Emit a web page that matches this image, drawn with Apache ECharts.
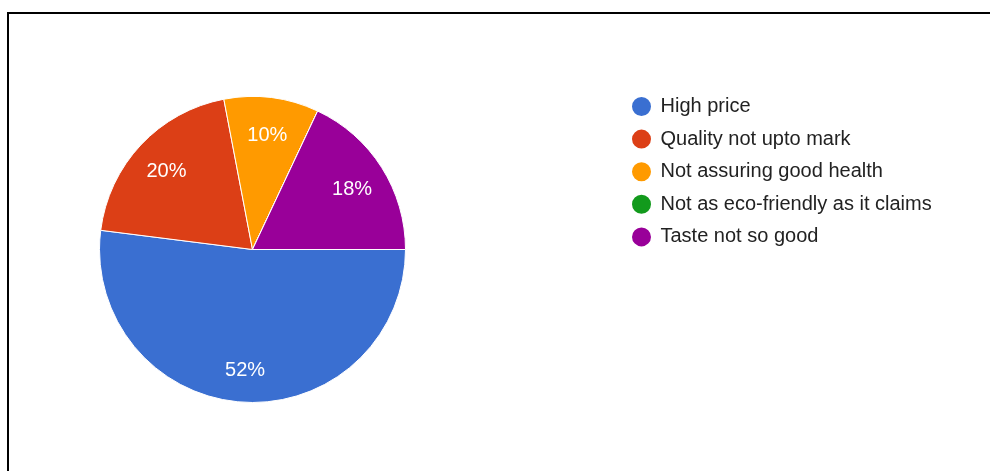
<!DOCTYPE html>
<html>
<head>
<meta charset="utf-8">
<script src="https://cdn.jsdelivr.net/npm/echarts@6/dist/echarts.min.js"></script>
<style>
  html, body { margin: 0; padding: 0; background: #fff; }
  #chart { width: 990px; height: 471px; }
</style>
</head>
<body>
<div id="chart"></div>
<script>
// Survey answers: reasons for not buying the product (share of responses, %)
const categories = [
  'High price',
  'Quality not upto mark',
  'Not assuring good health',
  'Not as eco-friendly as it claims',
  'Taste not so good'
];
const shares = [52, 20, 10, 0, 18];
const colors = ['#3a6fd1', '#dc3f16', '#ff9a00', '#129a1c', '#990099'];

const pieData = categories.map((name, i) => ({ name, value: shares[i] }));
const FONT = '"Liberation Sans", Arial, sans-serif';

const chart = echarts.init(document.getElementById('chart'), null, { renderer: 'canvas' });
chart.setOption({
  backgroundColor: '#ffffff',
  animation: false,
  color: colors,
  legend: {
    orient: 'vertical',
    left: 625,
    top: 90,
    icon: 'circle',
    itemWidth: 28,
    itemHeight: 21,
    itemGap: 9.6,
    data: categories,
    textStyle: { fontFamily: FONT, fontSize: 20, color: '#222222' }
  },
  graphic: [{
    type: 'polyline',
    shape: { points: [[8, 471], [8, 13], [990, 13]] },
    style: { stroke: '#000000', lineWidth: 2, fill: null },
    silent: true
  }],
  series: [
    {
      // the slices themselves
      type: 'pie',
      center: [252.5, 249.5],
      radius: [0, 153],
      startAngle: 0,
      clockwise: true,
      avoidLabelOverlap: false,
      label: { show: false },
      labelLine: { show: false },
      itemStyle: { borderColor: '#ffffff', borderWidth: 1 },
      emphasis: { disabled: true },
      data: pieData
    },
    {
      // transparent twin used only to place the percentage labels further out
      type: 'pie',
      center: [252.5, 252.5],
      radius: [0, 230],
      startAngle: 0,
      clockwise: true,
      silent: true,
      avoidLabelOverlap: false,
      itemStyle: { color: 'rgba(0,0,0,0)', borderWidth: 0 },
      emphasis: { disabled: true },
      labelLine: { show: false },
      label: {
        show: true,
        position: 'inside',
        fontFamily: FONT,
        fontSize: 20,
        color: '#ffffff',
        formatter: p => (p.value > 0 ? p.value + '%' : '')
      },
      data: pieData
    }
  ]
});
</script>
</body>
</html>
